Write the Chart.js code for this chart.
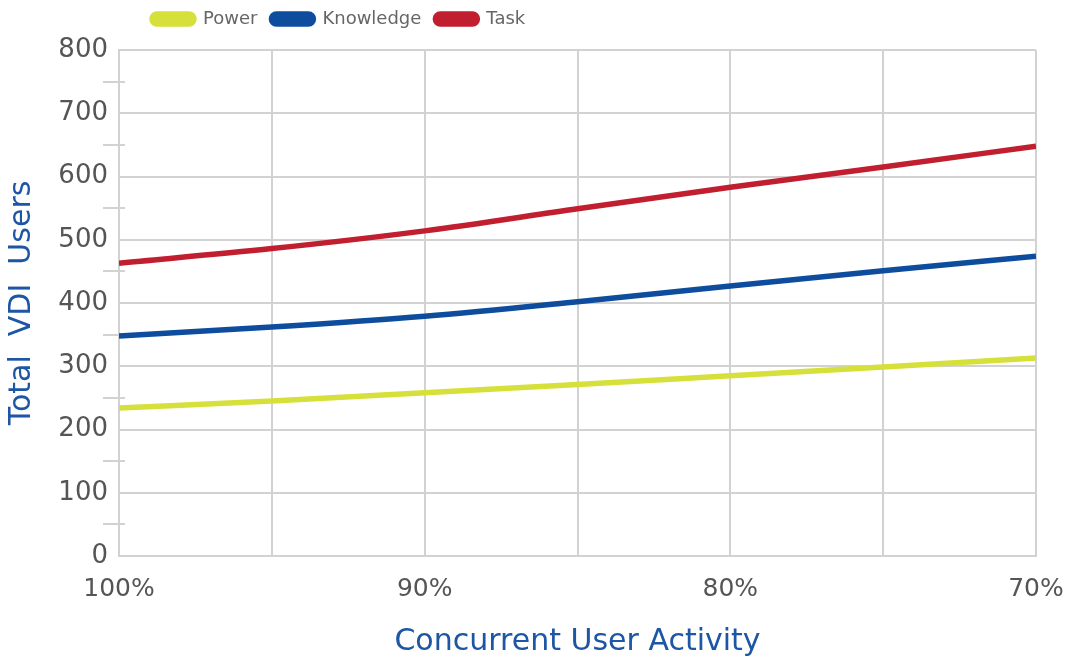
<!DOCTYPE html>
<html>
<head>
<meta charset="utf-8">
<script src="https://cdn.jsdelivr.net/npm/chart.js@4"></script>
<style>
  html, body { margin: 0; padding: 0; background: #ffffff; }
  #wrap { width: 1066px; height: 657px; position: relative; }
</style>
</head>
<body>
<div id="wrap"><canvas id="c" width="1066" height="657"></canvas></div>
<script>
// ---- data ----
const activity = [100, 95, 90, 85, 80, 75, 70];
const powerUsers = [234, 245, 258, 271, 285, 299, 313];
const knowledgeUsers = [348, 362, 379, 402, 427, 451, 474];
const taskUsers = [463, 486, 514, 549, 583, 615, 648];
const seriesNames = ['Power', 'Knowledge', 'Task'];
const xTickValues = [100, 90, 80, 70];
const yTickValues = [0, 100, 200, 300, 400, 500, 600, 700, 800];
const yMinorTicks = [50, 150, 250, 350, 450, 550, 650, 750];

const FONT = "'DejaVu Sans', sans-serif";
const GRID = '#d2d2d2';
const TITLE_COLOR = '#1c56a4';
const colors = ['#d6e03b', '#0e4c9e', '#c11f2f'];

function pts(vals) { return activity.map((a, i) => ({ x: a, y: vals[i] })); }

const minorTickPlugin = {
  id: 'minorTicks',
  beforeDatasetsDraw(chart) {
    const ctx = chart.ctx, y = chart.scales.y, left = chart.chartArea.left;
    ctx.save();
    ctx.strokeStyle = GRID;
    ctx.lineWidth = 2;
    yMinorTicks.forEach(v => {
      const py = Math.round(y.getPixelForValue(v));
      ctx.beginPath();
      ctx.moveTo(left - 16, py);
      ctx.lineTo(left + 6, py);
      ctx.stroke();
    });
    ctx.restore();
  }
};

const legendTweak = {
  id: 'legendTweak',
  beforeLayout(chart) {
    const lg = chart.legend;
    if (lg && !lg._tweaked) {
      const origFit = lg.fit.bind(lg);
      lg.fit = function () { origFit(); this.height = 50; };
      lg._tweaked = true;
    }
  },
  afterLayout(chart) {
    const lg = chart.legend;
    if (lg) { lg.left = 138; lg.top = -4; }
  }
};

new Chart(document.getElementById('c'), {
  type: 'line',
  data: {
    datasets: [
      { label: seriesNames[0], data: pts(powerUsers), borderColor: colors[0], backgroundColor: colors[0] },
      { label: seriesNames[1], data: pts(knowledgeUsers), borderColor: colors[1], backgroundColor: colors[1] },
      { label: seriesNames[2], data: pts(taskUsers), borderColor: colors[2], backgroundColor: colors[2] }
    ]
  },
  options: {
    responsive: false,
    animation: false,
    layout: { padding: 0 },
    elements: {
      line: { borderWidth: 5.5, cubicInterpolationMode: 'monotone', fill: false, borderCapStyle: 'butt' },
      point: { radius: 0, hoverRadius: 0 }
    },
    plugins: {
      tooltip: { enabled: false },
      legend: {
        position: 'top',
        align: 'start',
        labels: {
          boxWidth: 42,
          boxHeight: 10,
          useBorderRadius: true,
          borderRadius: 5,
          padding: 14,
          color: '#666666',
          font: { family: FONT, size: 18 }
        }
      }
    },
    scales: {
      x: {
        type: 'linear',
        reverse: true,
        min: 70,
        max: 100,
        afterFit(scale) { scale.height = 101; scale.paddingRight = 30; scale.paddingLeft = 0; },
        afterBuildTicks(scale) {
          scale.ticks = activity.map(v => ({ value: v }));
        },
        ticks: {
          autoSkip: false,
          maxRotation: 0,
          padding: 18,
          color: '#555555',
          font: { family: FONT, size: 25 },
          callback: (v) => xTickValues.includes(v) ? v + '%' : ''
        },
        grid: { color: GRID, lineWidth: 2, drawTicks: false },
        border: { color: GRID, width: 2 },
        title: {
          display: true,
          text: 'Concurrent User Activity',
          color: TITLE_COLOR,
          font: { family: FONT, size: 30, lineHeight: 1 },
          padding: { top: 0, bottom: 0 }
        }
      },
      y: {
        min: 0,
        max: 800,
        afterFit(scale) { scale.width = 119; scale.paddingTop = 0; },
        afterBuildTicks(scale) {
          scale.ticks = yTickValues.map(v => ({ value: v }));
        },
        ticks: {
          padding: 11,
          color: '#555555',
          font: { family: FONT, size: 26 }
        },
        grid: { color: GRID, lineWidth: 2, drawTicks: false },
        border: { color: GRID, width: 2 },
        title: {
          display: true,
          text: 'Total  VDI  Users',
          color: TITLE_COLOR,
          font: { family: FONT, size: 30, lineHeight: 1 },
          padding: { top: 7, bottom: 0 }
        }
      }
    }
  },
  plugins: [minorTickPlugin, legendTweak]
});
</script>
</body>
</html>
